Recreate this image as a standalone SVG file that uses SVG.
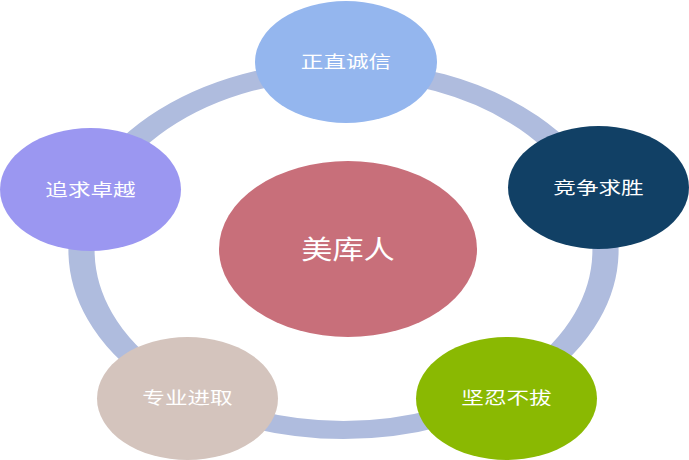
<svg xmlns="http://www.w3.org/2000/svg" width="689" height="460" viewBox="0 0 689 460">
<style>
.lbl{font-family:"Noto Sans CJK SC","Noto Sans",sans-serif;fill:#ffffff;text-anchor:middle;font-size:17px}
.big{font-size:26px}
</style>
<rect width="689" height="460" fill="#ffffff"/>
<g id="connectors">
<circle cx="0" cy="0" r="180" fill="none" stroke="#AFBCDE" stroke-width="18" transform="translate(343.5,250) scale(1.4556,1)"/>
</g>
<g id="node-center">
<ellipse cx="348" cy="249" rx="129" ry="88" fill="#C86F7A"/>
<text class="lbl big" transform="translate(348,258.5) scale(1.2,1)">美库人</text>
</g>
<g id="node-top">
<ellipse cx="346" cy="62" rx="91" ry="61" fill="#94B6EE"/>
<text class="lbl" transform="translate(346,68) scale(1.33,1)">正直诚信</text>
</g>
<g id="node-right">
<ellipse cx="598.5" cy="187.5" rx="90.5" ry="61.5" fill="#114065"/>
<text class="lbl" transform="translate(598.5,194) scale(1.33,1)">竞争求胜</text>
</g>
<g id="node-bottom-right">
<ellipse cx="506.5" cy="398.5" rx="90.5" ry="61.5" fill="#8AB902"/>
<text class="lbl" transform="translate(506.5,404) scale(1.33,1)">坚忍不拔</text>
</g>
<g id="node-bottom-left">
<ellipse cx="187.5" cy="398.5" rx="90.5" ry="61.5" fill="#D4C4BD"/>
<text class="lbl" transform="translate(187.5,404) scale(1.33,1)">专业进取</text>
</g>
<g id="node-left">
<ellipse cx="90.5" cy="189.5" rx="90.5" ry="61.5" fill="#9B97F1"/>
<text class="lbl" transform="translate(90.5,195.5) scale(1.33,1)">追求卓越</text>
</g>
</svg>
